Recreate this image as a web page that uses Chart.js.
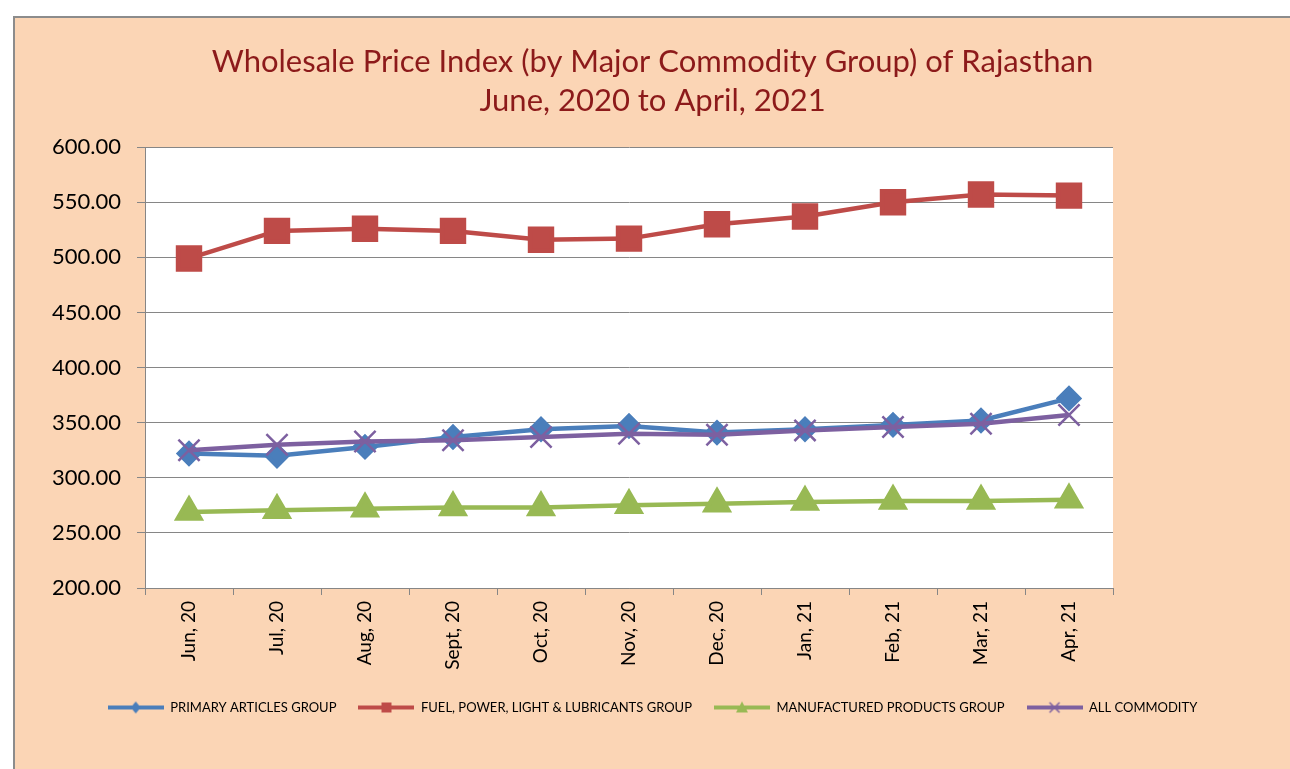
<!DOCTYPE html>
<html>
<head>
<meta charset="utf-8">
<script src="https://cdn.jsdelivr.net/npm/chart.js@4"></script>
<style>
  html, body { margin: 0; padding: 0; background: #fff; }
  #frame {
    position: absolute; left: 13px; top: 16px;
    width: 1277px; height: 753px;
    border-top: 2px solid #8c8c8c; border-left: 2px solid #8c8c8c;
    background: #fbd5b5;
  }
  #wpi { display: block; }
</style>
</head>
<body>
<div id="frame"><canvas id="wpi" width="1275" height="751"></canvas></div>
<script>
const months = ['Jun, 20', 'Jul, 20', 'Aug, 20', 'Sept, 20', 'Oct, 20', 'Nov, 20', 'Dec, 20', 'Jan, 21', 'Feb, 21', 'Mar, 21', 'Apr, 21'];
const primaryArticles = [322, 320, 328, 337, 344, 347, 341, 344, 348, 352, 372];
const fuelPower = [499, 524, 526, 524, 516, 517, 530, 537, 550, 557, 556];
const manufactured = [269, 270.5, 272, 273, 273, 275, 276.5, 278, 279, 279, 280];
const allCommodity = [325, 330, 333, 334, 337, 340, 339, 343, 346, 349, 357];
const yTicks = [200, 250, 300, 350, 400, 450, 500, 550, 600];

// small line+marker pictures for the legend
function legendSample(color, marker) {
    const c = document.createElement('canvas');
    c.width = 56; c.height = 16;
    const g = c.getContext('2d');
    g.strokeStyle = color; g.fillStyle = color; g.lineWidth = 4;
    g.beginPath(); g.moveTo(0, 8); g.lineTo(56, 8); g.stroke();
    g.beginPath();
    if (marker === 'diamond') {
        g.moveTo(28, 2); g.lineTo(33, 8); g.lineTo(28, 14); g.lineTo(23, 8); g.closePath(); g.fill();
    } else if (marker === 'square') {
        g.fillRect(23, 3, 10, 10);
    } else if (marker === 'triangle') {
        g.moveTo(28, 2); g.lineTo(34, 13); g.lineTo(22, 13); g.closePath(); g.fill();
    } else {
        g.lineWidth = 1.5;
        g.moveTo(23, 3); g.lineTo(33, 13); g.moveTo(33, 3); g.lineTo(23, 13); g.stroke();
    }
    return c;
}

const samples = [
    legendSample('#4a7ebb', 'diamond'),
    legendSample('#be4b48', 'square'),
    legendSample('#98b954', 'triangle'),
    legendSample('#7d60a0', 'cross')
];

const ctx = document.getElementById('wpi').getContext('2d');
new Chart(ctx, {
    type: 'line',
    data: {
        labels: months,
        datasets: [{
            label: 'PRIMARY ARTICLES GROUP',
            data: primaryArticles,
            borderColor: '#4a7ebb',
            backgroundColor: '#4a7ebb',
            borderWidth: 4.5,
            pointStyle: 'rectRot',
            pointRadius: 10,
            order: 3
        }, {
            label: 'FUEL, POWER, LIGHT & LUBRICANTS GROUP',
            data: fuelPower,
            borderColor: '#be4b48',
            backgroundColor: '#be4b48',
            borderWidth: 4.5,
            pointStyle: 'rect',
            pointRadius: 15.5,
            order: 2
        }, {
            label: 'MANUFACTURED PRODUCTS GROUP',
            data: manufactured,
            borderColor: '#98b954',
            backgroundColor: '#98b954',
            borderWidth: 4.5,
            pointStyle: 'triangle',
            pointRadius: 13,
            order: 1
        }, {
            label: 'ALL COMMODITY',
            data: allCommodity,
            borderColor: '#7d60a0',
            backgroundColor: '#7d60a0',
            borderWidth: 4.5,
            pointStyle: 'crossRot',
            pointRadius: 15,
            pointBorderWidth: 2.5,
            order: 0
        }]
    },
    options: {
        responsive: false,
        animation: false,
        layout: { padding: { left: 0, right: 0, top: 0, bottom: 45 } },
        plugins: {
            title: {
                display: true,
                text: ['Wholesale Price Index (by Major Commodity Group) of Rajasthan', 'June, 2020 to April, 2021'],
                color: '#8c1a1a',
                font: { family: 'Lato', size: 31, weight: 'normal', lineHeight: 1.26 },
                padding: { top: 24, bottom: 27 }
            },
            legend: {
                position: 'bottom',
                labels: {
                    usePointStyle: true,
                    pointStyleWidth: 56,
                    padding: 22,
                    color: '#000',
                    font: { family: 'Lato', size: 13 },
                    sort: (a, b) => a.datasetIndex - b.datasetIndex,
                    generateLabels: function (chart) {
                        const items = Chart.defaults.plugins.legend.labels.generateLabels(chart);
                        items.forEach(item => { item.pointStyle = samples[item.datasetIndex]; });
                        return items;
                    }
                }
            },
            tooltip: { enabled: false }
        },
        scales: {
            x: {
                offset: true,
                afterFit: function (scale) { scale.height = 91; },
                grid: { drawOnChartArea: false, offset: true, tickLength: 7, color: '#868686' },
                border: { color: '#868686' },
                ticks: {
                    minRotation: 90, maxRotation: 90, padding: 6,
                    color: '#000',
                    font: { family: 'Lato', size: 19 }
                }
            },
            y: {
                min: 200,
                max: 600,
                afterFit: function (scale) { scale.width = 130; },
                afterBuildTicks: function (scale) { scale.ticks = yTicks.map(v => ({ value: v })); },
                grid: { color: '#868686', tickLength: 8 },
                border: { color: '#868686' },
                ticks: {
                    padding: 16,
                    color: '#000',
                    font: { family: 'Lato', size: 22 },
                    callback: v => v.toFixed(2)
                }
            },
            pad: {
                position: 'right',
                min: 0, max: 1,
                afterFit: function (scale) { scale.width = 177; },
                grid: { display: false },
                border: { display: false },
                ticks: { display: false }
            }
        }
    },
    plugins: [{
        id: 'plotBackground',
        beforeDraw: function (chart) {
            const a = chart.chartArea;
            chart.ctx.save();
            chart.ctx.fillStyle = '#fff';
            chart.ctx.fillRect(a.left, a.top, a.right - a.left, a.bottom - a.top);
            chart.ctx.restore();
        }
    }]
});
</script>
</body>
</html>
